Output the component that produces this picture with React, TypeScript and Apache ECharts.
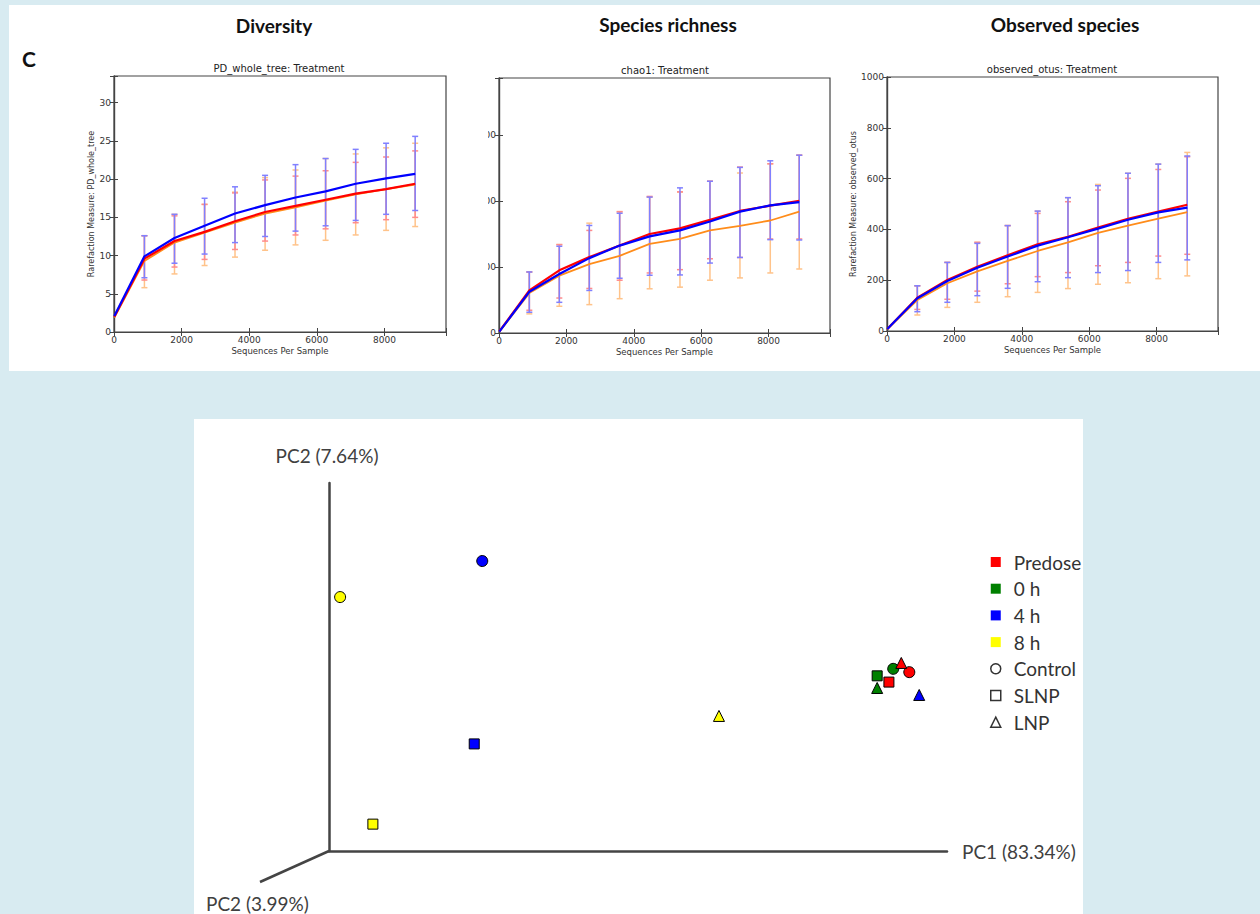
import React, { useEffect, useRef } from "react";
import * as echarts from "echarts";

// ---------- data ----------
const depths = [10, 900, 1790, 2680, 3580, 4470, 5370, 6260, 7150, 8050, 8910];

// PD_whole_tree
const pdBlue = [2.1, 9.9, 12.3, 13.9, 15.5, 16.6, 17.6, 18.4, 19.4, 20.1, 20.7];
const pdRed = [2.0, 9.6, 11.9, 13.1, 14.5, 15.7, 16.5, 17.3, 18.1, 18.7, 19.4];
const pdOrange = [1.9, 9.3, 11.7, 13.0, 14.3, 15.5, 16.3, 17.2, 18.0, 18.7, 19.3];
const pdBlueLo = [7.1, 9.0, 10.2, 11.7, 12.5, 13.2, 13.9, 14.6, 15.4, 15.9];
const pdBlueHi = [12.6, 15.4, 17.5, 19.0, 20.5, 21.9, 22.7, 23.9, 24.7, 25.6];
const pdRedLo = [6.8, 8.5, 9.5, 10.8, 11.9, 12.7, 13.5, 14.3, 14.7, 15.0];
const pdRedHi = [12.6, 15.2, 16.7, 18.2, 19.9, 20.4, 21.1, 22.2, 22.9, 23.7];
const pdOrangeLo = [5.8, 7.6, 8.7, 9.8, 10.7, 11.4, 12.0, 12.7, 13.3, 13.8];
const pdOrangeHi = [12.6, 15.4, 16.7, 18.3, 20.2, 21.2, 22.7, 23.3, 24.1, 24.7];

// chao1
const chaoRed = [5, 129, 190, 230, 265, 300, 317, 343, 370, 386, 401];
const chaoBlue = [4, 125, 179, 227, 265, 293, 311, 338, 368, 387, 397];
const chaoOrange = [4, 121, 174, 209, 234, 270, 285, 311, 325, 341, 368];
const chaoBlueLo = [63, 93, 129, 166, 175, 176, 212, 229, 283, 282];
const chaoBlueHi = [185, 263, 326, 363, 412, 440, 460, 502, 522, 539];
const chaoRedLo = [69, 106, 135, 160, 182, 192, 225, 229, 285, 285];
const chaoRedHi = [185, 268, 311, 368, 414, 428, 460, 503, 513, 539];
const chaoOrangeLo = [58, 81, 86, 104, 134, 139, 160, 167, 182, 194];
const chaoOrangeHi = [185, 268, 333, 367, 412, 427, 460, 485, 513, 539];

// observed_otus
const obsRed = [8, 131, 201, 253, 298, 341, 371, 407, 442, 470, 497];
const obsBlue = [8, 129, 197, 249, 293, 336, 369, 403, 438, 467, 486];
const obsOrange = [7, 122, 188, 235, 276, 315, 349, 386, 415, 442, 468];
const obsBlueLo = [76, 113, 139, 168, 194, 210, 230, 238, 270, 280];
const obsBlueHi = [178, 270, 345, 415, 472, 525, 572, 621, 657, 689];
const obsRedLo = [85, 125, 157, 186, 214, 230, 257, 270, 295, 302];
const obsRedHi = [178, 270, 349, 415, 463, 509, 555, 601, 636, 686];
const obsOrangeLo = [63, 93, 113, 135, 152, 167, 184, 190, 206, 217];
const obsOrangeHi = [178, 270, 349, 415, 472, 525, 577, 621, 657, 703];

const panelTitles = ["Diversity", "Species richness", "Observed species"];
const plotTitles = ["PD_whole_tree: Treatment", "chao1: Treatment", "observed_otus: Treatment"];
const yNames = ["Rarefaction Measure: PD_whole_tree", "", "Rarefaction Measure: observed_otus"];
const xName = "Sequences Per Sample";
const yMaxes = [33.5, 773, 1000];
const yIntervals = [5, 200, 200];
const xMax = 9822;
const xInterval = 2000;

// PCoA (order: Predose, 0 h, 4 h, 8 h)
const timepoints = ["Predose", "0 h", "4 h", "8 h"];
const treatments = ["Control", "SLNP", "LNP"];
const controlPC = [[0.939, 0.486], [0.913, 0.495], [0.248, 0.788], [0.018, 0.69]];
const slnpPC = [[0.906, 0.459], [0.887, 0.476], [0.235, 0.291], [0.071, 0.073]];
const lnpPC = [[0.926, 0.511], [0.887, 0.443], [0.955, 0.424], [0.631, 0.367]];
const pcLabels = ["PC2 (7.64%)", "PC2 (3.99%)", "PC1 (83.34%)"];

// ---------- styles ----------
const BG = "#d8ebf1";
const AX = "#444";
const tpColors = ["#ff0000", "#008000", "#0000ff", "#ffff00"];
const trSymbols = ["circle", "rect", "triangle"];
const trSizes = [11, 10, 11];
const lineColors = { blue: "#0000ff", red: "#ff0000", orange: "#ff8c1a" };
const barColors = { blue: "#8080ff", red: "#ff8c8c", orange: "#ffc38a" };
const grids = [
  { left: 114, top: 76, width: 332, height: 256 },
  { left: 499, top: 78, width: 331, height: 255 },
  { left: 887, top: 77, width: 331, height: 254 },
];
const MONO = "DejaVu Sans";
const HEAD = "Lato";

function errRender(color: string) {
  return (params: any, api: any) => {
    const x = api.value(0);
    const lo = api.coord([x, api.value(1)]);
    const hi = api.coord([x, api.value(2)]);
    const cw = 3;
    const st = { stroke: color, lineWidth: 1.5 };
    return {
      type: "group",
      children: [
        { type: "line", shape: { x1: lo[0], y1: lo[1], x2: hi[0], y2: hi[1] }, style: st },
        { type: "line", shape: { x1: lo[0] - cw, y1: lo[1], x2: lo[0] + cw, y2: lo[1] }, style: st },
        { type: "line", shape: { x1: hi[0] - cw, y1: hi[1], x2: hi[0] + cw, y2: hi[1] }, style: st },
      ],
    };
  };
}

export default function App() {
  const ref = useRef<HTMLDivElement>(null);
  useEffect(() => {
    document.body.style.margin = "0";
    const chart = echarts.init(ref.current!, null, { renderer: "svg" });

    const grid: any[] = grids.map((g) => ({ ...g, show: true, borderColor: AX, borderWidth: 1.2, backgroundColor: "#fff" }));
    grid.push({ left: 329, top: 483, width: 618, height: 368, show: false });

    const axisCommon = {
      axisLine: { show: true, lineStyle: { color: AX, width: 1.2 } },
      axisTick: { show: true, inside: true, length: 4, lineStyle: { color: AX } },
      splitLine: { show: false },
    };
    const xAxis: any[] = [];
    const yAxis: any[] = [];
    const dataSets = [
      { lines: [pdOrange, pdRed, pdBlue], bars: [[pdOrangeLo, pdOrangeHi], [pdRedLo, pdRedHi], [pdBlueLo, pdBlueHi]] },
      { lines: [chaoOrange, chaoRed, chaoBlue], bars: [[chaoOrangeLo, chaoOrangeHi], [chaoRedLo, chaoRedHi], [chaoBlueLo, chaoBlueHi]] },
      { lines: [obsOrange, obsRed, obsBlue], bars: [[obsOrangeLo, obsOrangeHi], [obsRedLo, obsRedHi], [obsBlueLo, obsBlueHi]] },
    ];
    const series: any[] = [];
    const colorKeys = ["orange", "red", "blue"] as const;
    const yNameGaps = [19, 0, 30];

    for (let i = 0; i < 3; i++) {
      const iv = yIntervals[i];
      xAxis.push({
        type: "value", gridIndex: i, position: "bottom", min: 0, max: xMax, interval: xInterval,
        ...axisCommon,
        axisLabel: { show: true, margin: 3, fontSize: 9, fontFamily: MONO, color: "#333", showMaxLabel: true,
          formatter: (v: number) => (v % xInterval === 0 ? String(v) : "") },
        name: xName, nameLocation: "middle", nameGap: 14,
        nameTextStyle: { fontSize: 8.5, fontFamily: MONO, color: "#333" },
      });
      xAxis.push({
        type: "value", gridIndex: i, position: "top", min: 0, max: xMax, interval: xInterval,
        ...axisCommon, axisLabel: { show: false },
      });
      yAxis.push({
        type: "value", gridIndex: i, position: "left", min: 0, max: yMaxes[i], interval: iv,
        ...axisCommon,
        axisLabel: { show: true, margin: 3, fontSize: 9, fontFamily: MONO, color: "#333", showMaxLabel: true,
          formatter: (v: number) => (Math.abs(v / iv - Math.round(v / iv)) < 1e-6 ? String(v) : "") },
        name: yNames[i], nameLocation: "middle", nameGap: yNameGaps[i], nameRotate: 90,
        nameTextStyle: { fontSize: 8, fontFamily: MONO, color: "#333" },
      });
      yAxis.push({
        type: "value", gridIndex: i, position: "right", min: 0, max: yMaxes[i], interval: iv,
        ...axisCommon, axisLabel: { show: false },
      });
      const ds = dataSets[i];
      for (let k = 0; k < 3; k++) {
        const [lo, hi] = ds.bars[k];
        series.push({
          type: "custom", coordinateSystem: "cartesian2d", xAxisIndex: 2 * i, yAxisIndex: 2 * i,
          data: depths.slice(1).map((d, j) => [d, lo[j], hi[j]]),
          encode: { x: 0, y: [1, 2] },
          renderItem: errRender(barColors[colorKeys[k]]),
          z: 2 + k,
          silent: true,
        });
      }
      for (let k = 0; k < 3; k++) {
        series.push({
          type: "line", xAxisIndex: 2 * i, yAxisIndex: 2 * i, showSymbol: false,
          data: depths.map((d, j) => [d, ds.lines[k][j]]),
          lineStyle: { color: lineColors[colorKeys[k]], width: k === 0 ? 1.8 : 2.2 },
          itemStyle: { color: lineColors[colorKeys[k]] },
          z: 6 + k, silent: true,
        });
      }
    }

    // PCoA axes
    xAxis.push({ type: "value", gridIndex: 3, min: 0, max: 1, position: "bottom",
      axisLine: { show: true, onZero: false, lineStyle: { color: AX, width: 2.5 } },
      axisTick: { show: false }, axisLabel: { show: false }, splitLine: { show: false } });
    yAxis.push({ type: "value", gridIndex: 3, min: 0, max: 1, position: "left",
      axisLine: { show: true, onZero: false, lineStyle: { color: AX, width: 2.5 } },
      axisTick: { show: false }, axisLabel: { show: false }, splitLine: { show: false } });

    const pcByTreatment = [controlPC, slnpPC, lnpPC];
    // draw order: 8 h, 4 h, 0 h, Predose (Predose on top)
    [3, 2, 1, 0].forEach((t) => {
      series.push({
        type: "scatter", name: timepoints[t], xAxisIndex: 6, yAxisIndex: 6,
        data: pcByTreatment.map((arr, r) => ({
          value: arr[t], symbol: trSymbols[r], symbolSize: trSizes[r],
        })),
        itemStyle: { color: tpColors[t], borderColor: "#000", borderWidth: 1, opacity: 1 },
        z: 10, silent: true,
      });
    });
    treatments.forEach((tr, r) => {
      series.push({
        type: "scatter", name: tr, xAxisIndex: 6, yAxisIndex: 6, data: [],
        symbol: trSymbols[r], itemStyle: { color: "#fff", borderColor: "#000", borderWidth: 1.5 },
      });
    });

    const legendData: any[] = [
      ...timepoints.map((t, i) => ({ name: t, icon: "rect", itemStyle: { color: tpColors[i], borderWidth: 0 } })),
      ...treatments.map((t, r) => ({ name: t, icon: trSymbols[r], itemStyle: { color: "#fff", borderColor: "#000", borderWidth: 1.5 } })),
    ];

    const graphic: any[] = [
      { type: "rect", z: -10, shape: { x: 9, y: 5, width: 1251, height: 366 }, style: { fill: "#fff" }, silent: true },
      { type: "rect", z: -10, shape: { x: 194, y: 419, width: 889, height: 495 }, style: { fill: "#fff" }, silent: true },
      { type: "text", x: 22, y: 58, style: { text: "C", font: `bold 21px ${HEAD}`, fill: "#111", verticalAlign: "middle" } },
      ...panelTitles.map((t, i) => ({
        type: "text", x: [274, 668, 1065][i], y: [25, 24, 24][i],
        style: { text: t, font: `bold 19px ${HEAD}`, fill: "#111", align: "center", verticalAlign: "middle" },
      })),
      ...plotTitles.map((t, i) => ({
        type: "text", x: [279, 665, 1052][i], y: [68, 70, 69][i],
        style: { text: t, font: `10px ${MONO}`, fill: "#222", align: "center", verticalAlign: "middle" },
      })),
      { type: "line", shape: { x1: 329, y1: 851, x2: 260, y2: 882 }, style: { stroke: AX, lineWidth: 2.5 } },
      { type: "text", x: 327, y: 455, style: { text: pcLabels[0], font: `19px ${HEAD}`, fill: "#404040", align: "center", verticalAlign: "middle" } },
      { type: "text", x: 206, y: 903, style: { text: pcLabels[1], font: `19px ${HEAD}`, fill: "#404040", verticalAlign: "middle" } },
      { type: "text", x: 962, y: 851, style: { text: pcLabels[2], font: `19px ${HEAD}`, fill: "#404040", verticalAlign: "middle" } },
      // overlays reproducing the cropping of the source figure
      { type: "rect", z: 100, shape: { x: 449, y: 80, width: 39, height: 245 }, style: { fill: "#fff" }, silent: true },
      { type: "rect", z: 100, shape: { x: 1083, y: 419, width: 177, height: 495 }, style: { fill: BG }, silent: true },
    ];

    chart.setOption({
      animation: false,
      backgroundColor: BG,
      grid, xAxis, yAxis, series, graphic,
      legend: {
        orient: "vertical", left: 985, top: 547, itemWidth: 10, itemHeight: 10, itemGap: 6.7,
        selectedMode: false, data: legendData,
        textStyle: { fontSize: 19, fontFamily: HEAD, color: "#333", lineHeight: 20, padding: [0, 0, 0, 8] },
      },
    });
    return () => chart.dispose();
  }, []);
  return <div ref={ref} style={{ width: 1260, height: 914 }} />;
}
